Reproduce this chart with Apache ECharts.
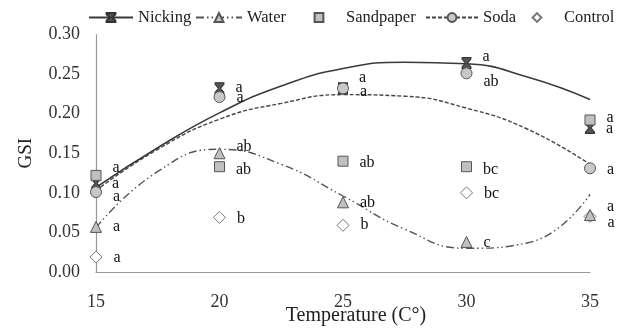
<!DOCTYPE html>
<html>
<head>
<meta charset="utf-8">
<script src="https://cdn.jsdelivr.net/npm/echarts@6/dist/echarts.min.js"></script>
<style>html,body{margin:0;padding:0;background:#fff}#c{width:623px;height:329px}</style>
</head>
<body>
<div id="c"></div>
<script>
// ---- data ----
var temps = [15, 20, 25, 30, 35];
var nicking   = [0.112, 0.232, 0.232, 0.264, 0.182];
var water     = [0.057, 0.150, 0.088, 0.038, 0.072];
var sandpaper = [0.122, 0.133, 0.140, 0.133, 0.192];
var soda      = [0.101, 0.221, 0.232, 0.251, 0.131];
var control   = [0.019, 0.069, 0.059, 0.100, 0.070];

var nickingLetters   = ['a', 'a', 'a', 'a', 'a'];
var waterLetters     = ['a', 'ab', 'ab', 'c', 'a'];
var sandpaperLetters = ['a', 'ab', 'ab', 'bc', 'a'];
var sodaLetters      = ['a', 'a', 'a', 'ab', 'a'];
var controlLetters   = ['a', 'b', 'b', 'bc', 'a'];

// trend curves
var trendX       = [15, 17.5, 20, 22.5, 25, 27.5, 30, 32.5, 35];
var nickingTrend = [0.107, 0.157, 0.201, 0.235, 0.257, 0.265, 0.263, 0.246, 0.218];
var sodaTrend    = [0.103, 0.155, 0.193, 0.213, 0.224, 0.222, 0.207, 0.180, 0.136];
var waterTrend   = [0.056, 0.127, 0.155, 0.136, 0.096, 0.054, 0.030, 0.037, 0.098];

var seriesNames = ['Nicking', 'Water', 'Sandpaper', 'Soda', 'Control'];
var yTicks = [0, 0.05, 0.10, 0.15, 0.20, 0.25, 0.30];
var xTicks = [15, 20, 25, 30, 35];

// ---- layout / style (label vertical nudges, px) ----
var dyNicking = [0, -1, -11, -6, 1];
var dyWater   = [0, -6, 0, 1, -8];
var dySand    = [-8, 3, 2, 3, -2];
var dySoda    = [5, 1, 3, 9, 2];
var dyControl = [1, 1, 0, 1, 6];
var legendLeft  = [88, 195, 297, 425, 515];
var legendWidth = [44, 46, 44, 52, 44];

var SERIF = '"Liberation Serif", "Times New Roman", serif';
var hourglass = 'path://M0,0L10,0L10,1.6L6.2,6L10,10.4L10,12L0,12L0,10.4L3.8,6L0,1.6Z';

function pts(xs, ys, letters, dys) {
  return xs.map(function (x, i) {
    var d = { value: [x, ys[i]] };
    if (letters) d.label = { formatter: letters[i], offset: [0, dys[i]] };
    return d;
  });
}
var lbl = { show: true, position: 'right', distance: 11, color: '#111', fontFamily: SERIF, fontSize: 16 };

function scatter(name, ys, letters, dys, symbol, size, fill, border, z) {
  return {
    name: name, type: 'scatter', data: pts(temps, ys, letters, dys),
    symbol: symbol, symbolSize: size, z: z,
    itemStyle: { color: fill, borderColor: border, borderWidth: 1, opacity: 1 },
    label: lbl, emphasis: { disabled: true }
  };
}
function trend(name, ys, lineType, color, width, symbol, fill, border) {
  return {
    name: name, type: 'line', data: ys ? pts(trendX, ys) : [], smooth: true, showSymbol: false,
    symbol: symbol, z: 1,
    lineStyle: ys ? { color: color, width: width, type: lineType } : { color: 'rgba(0,0,0,0)', width: 0, opacity: 0 },
    itemStyle: { color: fill, borderColor: border, borderWidth: 1 },
    emphasis: { disabled: true }
  };
}

var legends = seriesNames.map(function (n, i) {
  return {
    data: [n], left: legendLeft[i], top: 9, itemWidth: legendWidth[i], itemHeight: 11,
    textStyle: { fontFamily: SERIF, fontSize: 16.5, color: '#222' },
    selectedMode: false, padding: 0
  };
});

var chart = echarts.init(document.getElementById('c'), null, { renderer: 'canvas' });
chart.setOption({
  animation: false,
  backgroundColor: '#fff',
  grid: { left: 96, right: 33, top: 34.5, bottom: 57, containLabel: false, outerBoundsMode: 'none' },
  legend: legends,
  xAxis: {
    type: 'value', min: xTicks[0], max: xTicks[xTicks.length - 1], interval: 5,
    axisLine: { show: true, lineStyle: { color: '#999', width: 1.2 } },
    axisTick: { show: false }, splitLine: { show: false },
    axisLabel: { fontFamily: SERIF, fontSize: 18, color: '#333', margin: 21 },
    name: 'Temperature (C°)', nameLocation: 'middle', nameGap: 34, nameMoveOverlap: false,
    nameTextStyle: { fontFamily: SERIF, fontSize: 20, color: '#222', padding: [0, 0, 0, 26] }
  },
  yAxis: {
    type: 'value', min: yTicks[0], max: yTicks[yTicks.length - 1], interval: 0.05,
    axisLine: { show: true, lineStyle: { color: '#999', width: 1.2 } },
    axisTick: { show: false }, splitLine: { show: false },
    axisLabel: { fontFamily: SERIF, fontSize: 18, color: '#333', margin: 16,
      formatter: function (v) { return v.toFixed(2); } },
    name: 'GSI', nameLocation: 'middle', nameGap: 60, nameMoveOverlap: false,
    nameTextStyle: { fontFamily: SERIF, fontSize: 19, color: '#222' }
  },
  series: [
    trend('Nicking', nickingTrend, 'solid', '#3a3a3a', 1.6, hourglass, '#555', '#333'),
    trend('Water', waterTrend, [8, 3, 1.5, 3, 1.5, 3], '#555', 1.4, 'triangle', '#c0c0c0', '#555'),
    trend('Sandpaper', null, null, null, 0, 'rect', '#c0c0c0', '#555'),
    trend('Soda', sodaTrend, [4, 2], '#444', 1.4, 'circle', '#c8c8c8', '#555'),
    trend('Control', null, null, null, 0, 'diamond', '#ffffff', '#777'),
    scatter('Nicking', nicking, nickingLetters, dyNicking, hourglass, [9, 11], '#555', '#333', 3),
    scatter('Soda', soda, sodaLetters, dySoda, 'circle', 11, '#c8c8c8', '#555', 4),
    scatter('Sandpaper', sandpaper, sandpaperLetters, dySand, 'rect', 10, '#c0c0c0', '#555', 5),
    scatter('Water', water, waterLetters, dyWater, 'triangle', 11, '#c0c0c0', '#555', 5),
    scatter('Control', control, controlLetters, dyControl, 'diamond', 12, '#ffffff', '#777', 4)
  ]
});
</script>
</body>
</html>
